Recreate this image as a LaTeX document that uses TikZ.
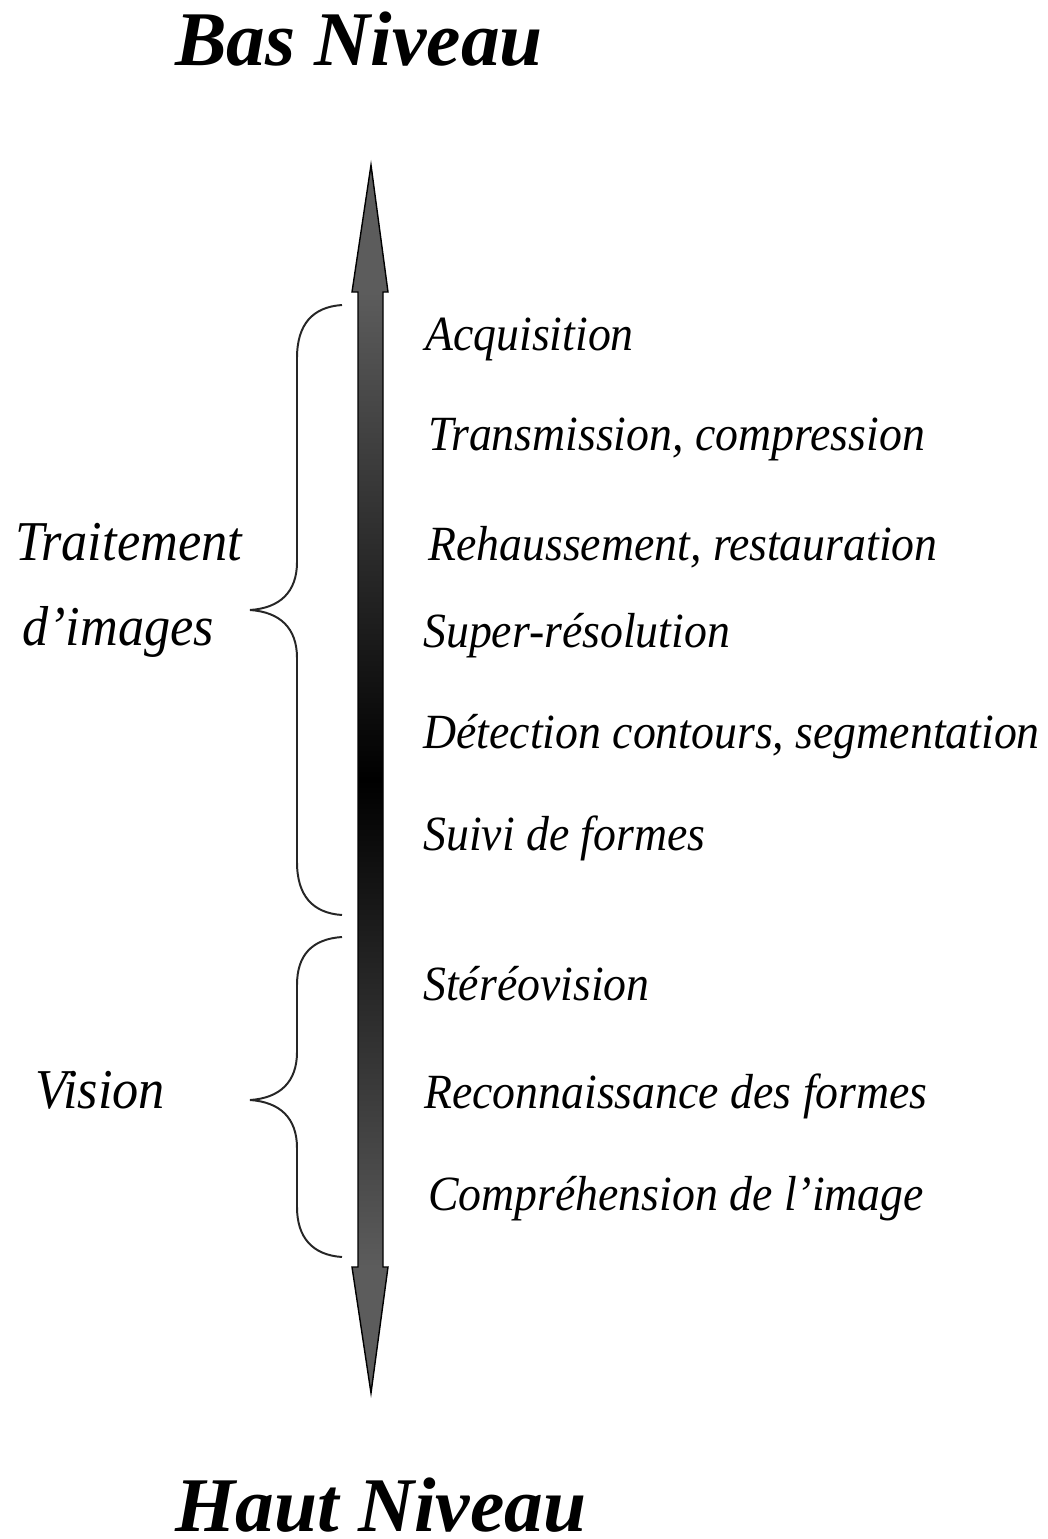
\documentclass[tikz,border=0pt]{standalone}
\usepackage{fontspec}
\setmainfont{Liberation Serif}
\newfontfamily\itemfont[FakeStretch=0.93]{Liberation Serif}
\usepackage{tikz}
\usetikzlibrary{calc,positioning}
\definecolor{arrowgray}{RGB}{92,92,92}

\begin{document}
\begin{tikzpicture}[x=0.025cm,y=-0.025cm]
	\tikzstyle{head} = [inner sep=0pt, font=\fontsize{55}{60}\selectfont\bfseries\itshape]
	\tikzstyle{task} = [anchor=base west, inner sep=0pt, font=\fontsize{35}{40}\selectfont\itemfont\itshape]
	\tikzstyle{group} = [anchor=base west, inner sep=0pt, font=\fontsize{40}{44}\selectfont\itemfont\itshape]
	\tikzstyle{brace} = [draw, line width=1.4pt, black!85]

	\useasboundingbox (0,0) rectangle (1047,1539);

	% titles
	\node[head, anchor=base] (low)  at (359,65)   {Bas Niveau};
	\node[head, anchor=base] (high) at (381,1531) {Haut Niveau};

	% axis
	\coordinate (tip top) at (371,165);
	\coordinate (tip bottom) at (371,1393);
	\shade[top color=arrowgray, bottom color=arrowgray, middle color=black] (358,292) rectangle (383,1267);
	\fill[arrowgray] (tip top) -- (388,292) -- (352,292) -- cycle;
	\fill[arrowgray] (tip bottom) -- (388,1267) -- (352,1267) -- cycle;
	\draw[line width=1pt, line join=miter] (tip top) -- (388,292) -- (383,292) -- (383,1267) -- (388,1267)
		-- (tip bottom) -- (352,1267) -- (358,1267) -- (358,292) -- (352,292) -- cycle;

	% tasks
	\node[task] (acq)   at (425,350)  {Acquisition};
	\node[task] (trans) at (428,450)  {Transmission, compression};
	\node[task] (reh)   at (428,560)  {Rehaussement, restauration};
	\node[task] (super) at (423,647)  {Super-résolution};
	\node[task] (det)   at (423,748)  {Détection contours, segmentation};
	\node[task] (suivi) at (423,850)  {Suivi de formes};
	\node[task] (stereo) at (423,1000) {Stéréovision};
	\node[task] (reco)  at (424,1108) {Reconnaissance des formes};
	\node[task] (compr) at (428,1210) {Compréhension de l’image};

	% groups
	\node[group] (trait)  at (15,560)  {Traitement};
	\node[group] (images) at (22,645)  {d’images};
	\node[group] (vision) at (35,1108) {Vision};

	% braces
	\path[brace] (342,305) .. controls (312,307) and (297,325) .. (297,358) -- (297,562)
		.. controls (297,592) and (280,608) .. (250,610)
		.. controls (280,612) and (297,628) .. (297,658) -- (297,862)
		.. controls (297,895) and (312,913) .. (342,915);
	\path[brace] (342,937) .. controls (312,939) and (297,955) .. (297,985) -- (297,1052)
		.. controls (297,1082) and (280,1098) .. (250,1100)
		.. controls (280,1102) and (297,1118) .. (297,1148) -- (297,1207)
		.. controls (297,1237) and (312,1255) .. (342,1257);
\end{tikzpicture}
\end{document}
